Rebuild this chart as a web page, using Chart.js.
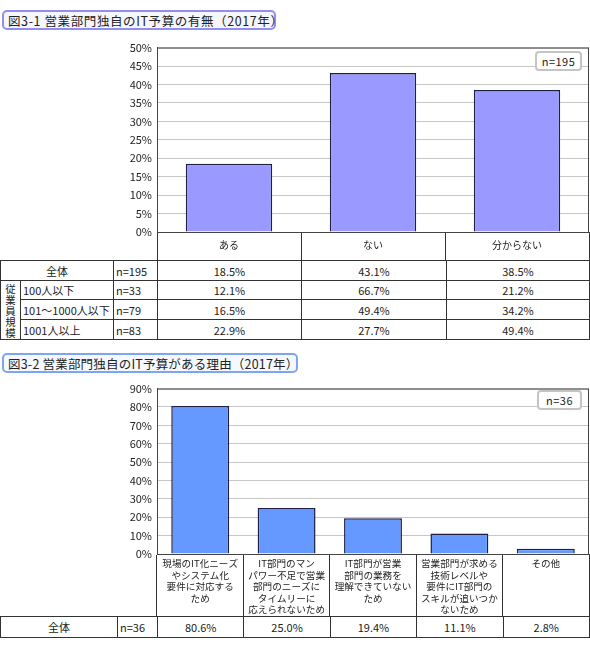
<!DOCTYPE html>
<html>
<head>
<meta charset="utf-8">
<script src="https://cdn.jsdelivr.net/npm/chart.js@4"></script>
<style>
  body { margin: 0; background: #fff; font-family: "Noto Sans CJK JP", sans-serif; color: #222; }
  #page { position: relative; width: 590px; height: 647px; overflow: hidden; }
  .title { position: absolute; left: 2px; height: 20px; line-height: 17px; font-size: 12.5px; padding: 0 4px; border-radius: 5px; white-space: nowrap; box-sizing: border-box; letter-spacing: 0.6px; }
  #title1 { top: 10px; width: 274px; border: 2px solid #8f8ff0; background: #f6f6ff; }
  #title2 { top: 353px; width: 296px; border: 2px solid #7ea6ee; background: #f5f9ff; letter-spacing: 0.2px; }
  .wrap { position: absolute; left: 0; width: 590px; }
  .nbox { position: absolute; font-size: 11px; text-align: center; border: 2px solid #c4c4c4; border-radius: 4px; background: #fff; height: 20px; line-height: 17px; box-sizing: border-box; letter-spacing: 0.5px; }
  table { position: absolute; left: 0; border-collapse: collapse; table-layout: fixed; font-size: 11px; }
  td { border: 1px solid #333; padding: 0 0 0 2px; white-space: nowrap; overflow: hidden; line-height: 14px; }
  td.c { text-align: center; padding: 0; }
  td.v { text-align: center; padding: 0; }
  td.v span { display: block; font-size: 10.5px; line-height: 11px; height: 11px; }
</style>
</head>
<body>
<div id="page">
  <div class="title" id="title1">図3-1 営業部門独自のIT予算の有無（2017年）</div>
  <div class="wrap" style="top:36px;height:224px"><canvas id="c1" width="590" height="224"></canvas></div>
  <div class="nbox" style="left:535px;top:51px;width:47px">n=195</div>
  <table id="t1" style="top:260px"></table>

  <div class="title" id="title2">図3-2 営業部門独自のIT予算がある理由（2017年）</div>
  <div class="wrap" style="top:377px;height:239px"><canvas id="c2" width="590" height="239"></canvas></div>
  <div class="nbox" style="left:537px;top:390px;width:45px">n=36</div>
  <table id="t2" style="top:616px"></table>
</div>
<script>
// 図3-1
const cats1 = ['ある', 'ない', '分からない'];
const total1 = [18.5, 43.1, 38.5];
const n1 = 195;
const sizeLabels = ['100人以下', '101〜1000人以下', '1001人以上'];
const sizeN = [33, 79, 83];
const size100 = [12.1, 66.7, 21.2];
const size1000 = [16.5, 49.4, 34.2];
const size1001 = [22.9, 27.7, 49.4];
const yMax1 = 50, yStep1 = 5;

// 図3-2
const cats2 = [
  ['現場のIT化ニーズ', 'やシステム化', '要件に対応する', 'ため'],
  ['IT部門のマン', 'パワー不足で営業', '部門のニーズに', 'タイムリーに', '応えられないため'],
  ['IT部門が営業', '部門の業務を', '理解できていない', 'ため'],
  ['営業部門が求める', '技術レベルや', '要件にIT部門の', 'スキルが追いつか', 'ないため'],
  ['その他']
];
const total2 = [80.6, 25.0, 19.4, 11.1, 2.8];
const n2 = 36;
const yMax2 = 90, yStep2 = 10;

const FONT = '"Noto Sans CJK JP", sans-serif';
const pct = v => v.toFixed(1) + '%';

// 枠線
const frame = {
  id: 'frame',
  afterDraw(chart) {
    const a = chart.chartArea, ctx = chart.ctx;
    ctx.save();
    ctx.strokeStyle = '#444';
    ctx.lineWidth = 1;
    ctx.strokeRect(a.left + 0.5, a.top + 0.5, a.right - a.left - 1, a.bottom - a.top);
    ctx.restore();
  }
};

function makeChart(id, labels, data, color, yMax, yStep, headH, labelTop, barPct, labelSize, lineH) {
  return new Chart(document.getElementById(id), {
    type: 'bar',
    data: {
      labels: labels,
      datasets: [{
        data: data,
        backgroundColor: color,
        borderColor: '#1e1e46',
        borderWidth: 1.5,
        borderSkipped: 'bottom',
        categoryPercentage: 1,
        barPercentage: barPct
      }]
    },
    options: {
      responsive: false,
      animation: false,
      layout: { padding: { top: 6, right: 1, left: 0, bottom: 0 } },
      plugins: { legend: { display: false }, tooltip: { enabled: false } },
      scales: {
        x: {
          grid: { offset: true, drawOnChartArea: false, drawTicks: true, tickLength: headH, color: '#333', tickColor: '#333' },
          border: { color: '#444' },
          ticks: { color: '#222', padding: -headH + labelTop, maxRotation: 0, autoSkip: false,
                   font: { family: FONT, size: labelSize, lineHeight: lineH } },
          afterFit(s) { s.height = headH; }
        },
        y: {
          min: 0, max: yMax,
          grid: { color: '#c6c6c6', drawTicks: false },
          border: { color: '#444' },
          ticks: { stepSize: yStep, padding: 5, color: '#222', font: { family: FONT, size: 11 },
                   callback: v => v + '%' },
          afterFit(s) { s.width = 157; }
        }
      }
    },
    plugins: [frame]
  });
}

makeChart('c1', cats1, total1, '#9999ff', yMax1, yStep1, 28, 8, 0.6, 10, 1.1);
makeChart('c2', cats2, total2, '#6699ff', yMax2, yStep2, 62, 4, 0.67, 9.6, 1.2);

// 表 1
const t1 = document.getElementById('t1');
let h1 = '<colgroup><col style="width:20px"><col style="width:93px"><col style="width:44px">' +
  '<col style="width:144px"><col style="width:145px"><col style="width:143px"></colgroup>';
h1 += '<tr style="height:20px"><td class="c" colspan="2">全体</td><td>n=' + n1 + '</td>' +
  total1.map(v => '<td class="c">' + pct(v) + '</td>').join('') + '</tr>';
[size100, size1000, size1001].forEach((row, i) => {
  h1 += '<tr style="height:' + (i === 0 ? 19 : 20) + 'px">';
  if (i === 0) h1 += '<td class="v" rowspan="3">' + '従業員規模'.split('').map(ch => '<span>' + ch + '</span>').join('') + '</td>';
  h1 += '<td>' + sizeLabels[i] + '</td><td>n=' + sizeN[i] + '</td>' +
    row.map(v => '<td class="c">' + pct(v) + '</td>').join('') + '</tr>';
});
t1.innerHTML = h1;

// 表 2
const t2 = document.getElementById('t2');
let h2 = '<colgroup><col style="width:117px"><col style="width:40px">' +
  total2.map(() => '<col style="width:86.4px">').join('') + '</colgroup>';
h2 += '<tr style="height:21px"><td class="c">全体</td><td>n=' + n2 + '</td>' +
  total2.map(v => '<td class="c">' + pct(v) + '</td>').join('') + '</tr>';
t2.innerHTML = h2;
</script>
</body>
</html>
